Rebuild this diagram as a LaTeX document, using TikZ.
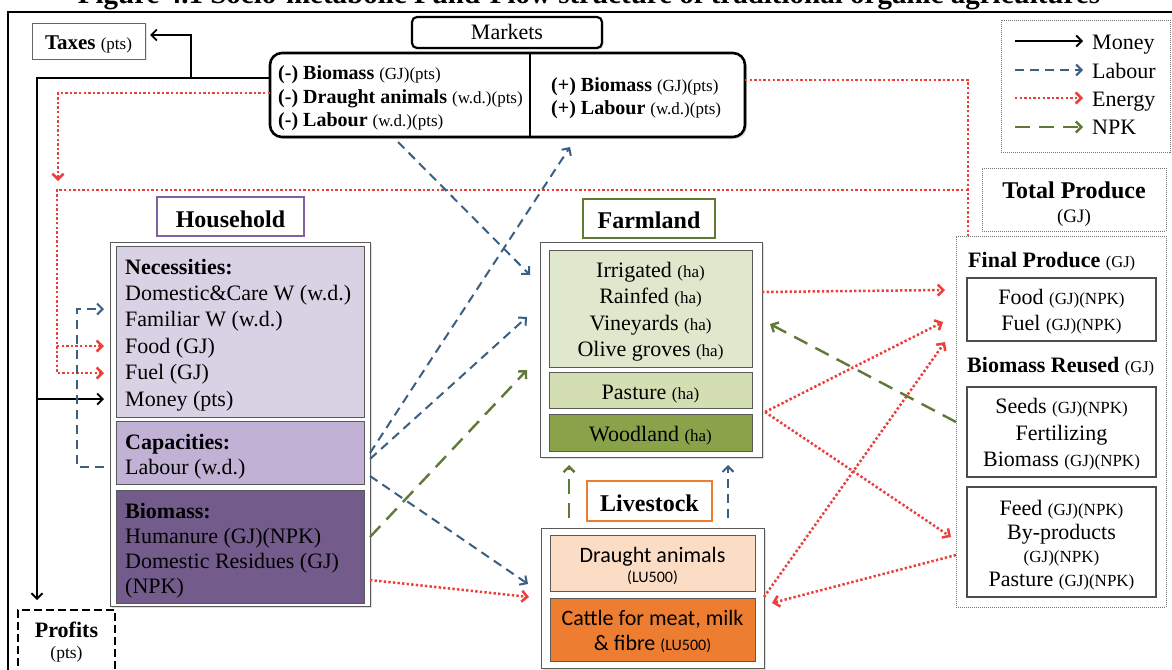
\documentclass[tikz,border=0pt]{standalone}
\usepackage{fontspec}
\setmainfont{Liberation Serif}
\newfontfamily\calib{Carlito}
\usetikzlibrary{arrows.meta,shadows,calc}

\definecolor{labourc}{HTML}{3B5F82}
\definecolor{energyc}{HTML}{E8413C}
\definecolor{npkc}{HTML}{5F7A38}
\definecolor{hhpurple}{HTML}{7E63A0}
\definecolor{necfill}{HTML}{D9D2E5}
\definecolor{capfill}{HTML}{C1B2D5}
\definecolor{biofill}{HTML}{735C8C}
\definecolor{irrfill}{HTML}{DFE8CC}
\definecolor{pasfill}{HTML}{D3DFB2}
\definecolor{woodfill}{HTML}{8AA24A}
\definecolor{flgreen}{HTML}{5E7A35}
\definecolor{draughtfill}{HTML}{FBDCC4}
\definecolor{cattlefill}{HTML}{ED7D31}

\newcommand\fsz[1]{\fontsize{#1}{#1}\selectfont}
\newcommand\smp[1]{{\fontsize{17}{17}\selectfont #1}}
\newcommand\tblk[2]{\begin{tabular}[t]{@{}#1@{}}#2\end{tabular}}

\tikzset{
  >={Straight Barb[length=5.5pt,width=11pt]},
  box/.style={draw=black!65, line width=0.9pt, anchor=north west, inner sep=0pt, outer sep=0pt},
  cont/.style={box, fill=white, drop shadow={shadow xshift=2pt, shadow yshift=-2pt, opacity=0.25}},
  dotbox/.style={draw=black!55, line width=0.9pt, dash pattern=on 1pt off 1pt, anchor=north west, inner sep=0pt, outer sep=0pt},
  txt/.style={inner sep=0pt, anchor=base},
  txtl/.style={inner sep=0pt, anchor=base west},
  money/.style={line width=1.8pt, draw=black, line join=miter},
  labour/.style={line width=2pt, draw=labourc, dash pattern=on 9pt off 6pt},
  energy/.style={line width=2.5pt, draw=energyc, dash pattern=on 2.4pt off 2.2pt},
  npk/.style={line width=2.4pt, draw=npkc, dash pattern=on 15pt off 9pt},
}

\begin{document}
\begin{tikzpicture}[x=1pt, y=-1pt]
\useasboundingbox (0,0) rectangle (1172,669);
\clip (0,0) rectangle (1172,669);
\fill[white] (0,0) rectangle (1172,669);

% heading and frame
\node[txt, font=\bfseries\fsz{29}] (heading) at (589,3.5) {Figure 4.1 Socio-metabolic Fund-Flow structure of traditional organic agricultures};
\draw[line width=1.4pt] (8,690) -- (8,12) -- (1180,12);

% taxes and profits
\node[box, fill=white, draw=black!60, drop shadow={shadow xshift=1.5pt, shadow yshift=-1.5pt, opacity=0.2}, minimum width=113pt, minimum height=36pt] (taxes) at (32,23) {};
\node[txt, font=\fsz{21}] (taxestxt) at (88.5,49) {\textbf{Taxes} \smp{(pts)}};
\node[anchor=north west, inner sep=0pt, outer sep=0pt, draw=black, line width=2.6pt, dash pattern=on 8pt off 4pt, minimum width=97pt, minimum height=70pt] (profits) at (18,610) {};
\node[txt, font=\bfseries\fsz{22}] (proftxt) at (66.5,637) {Profits};
\node[txt, font=\fsz{17.5}] (proftxt2) at (66.5,658) {(pts)};

% markets
\node[box, draw=black, line width=2.2pt, rounded corners=5pt, fill=white, minimum width=190pt, minimum height=31pt, drop shadow={shadow xshift=1.5pt, shadow yshift=-1.5pt, opacity=0.25}] (mktitle) at (412,17) {};
\node[txt, font=\fsz{22}] (mktitletxt) at (507,40) {Markets};
\node[box, draw=black, line width=2.6pt, rounded corners=12pt, fill=white, minimum width=475pt, minimum height=84pt, drop shadow={shadow xshift=2pt, shadow yshift=-2pt, opacity=0.25}] (mk) at (270,53) {};
\draw[line width=2pt] ($(mk.north west)+(260,0)$) -- ($(mk.south west)+(260,0)$);
\node[txtl, font=\fontsize{20}{23.5}\selectfont] (mkl) at (278,80) {\tblk{l}{\textbf{(-) Biomass} \smp{(GJ)(pts)}\\\textbf{(-) Draught animals} \smp{(w.d.)(pts)}\\\textbf{(-) Labour} \smp{(w.d.)(pts)}}};
\node[txtl, font=\fontsize{20}{23}\selectfont] (mkr) at (551,91) {\tblk{l}{\textbf{(+) Biomass} \smp{(GJ)(pts)}\\\textbf{(+) Labour} \smp{(w.d.)(pts)}}};

% legend
\node[dotbox, minimum width=169pt, minimum height=132pt] (legend) at (1001,20) {};
\coordinate (lg1a) at (1015,41); \coordinate (lg1b) at (1083,41);
\coordinate (lg2a) at (1015,70); \coordinate (lg2b) at (1083,70);
\coordinate (lg3a) at (1015,98); \coordinate (lg3b) at (1083,98);
\coordinate (lg4a) at (1015,127); \coordinate (lg4b) at (1083,127);
\draw[money,->] (lg1a) -- (lg1b);
\draw[labour,->] (lg2a) -- (lg2b);
\draw[energy,->] (lg3a) -- (lg3b);
\draw[npk,->] (lg4a) -- (lg4b);
\node[txtl, font=\fsz{22}] (lgt1) at (1092,49) {Money};
\node[txtl, font=\fsz{22}] (lgt2) at (1092,78) {Labour};
\node[txtl, font=\fsz{22}] (lgt3) at (1092,106) {Energy};
\node[txtl, font=\fsz{22}] (lgt4) at (1092,134) {NPK};

% total produce
\node[dotbox, minimum width=184pt, minimum height=63pt] (tptitle) at (982,168) {};
\node[txt, font=\bfseries\fsz{24}] (tpt1) at (1074,198) {Total Produce};
\node[txt, font=\fsz{19}] (tpt2) at (1074,222) {(GJ)};
\node[dotbox, fill=white, minimum width=210pt, minimum height=371pt] (tp) at (956,236) {};
\node[txtl, font=\fsz{22}] (fptxt) at (968,267) {\textbf{Final Produce} {\fsz{16.5}(GJ)}};
\node[box, draw=black!70, line width=1.2pt, minimum width=189pt, minimum height=63pt] (foodbox) at (967,278) {};
\node[txt, font=\fsz{22}] (food1) at (1061.5,304) {Food \smp{(GJ)(NPK)}};
\node[txt, font=\fsz{22}] (food2) at (1061.5,330) {Fuel \smp{(GJ)(NPK)}};
\node[txtl, font=\fsz{22}] (brtxt) at (967,372) {\textbf{Biomass Reused} {\fsz{16.5}(GJ)}};
\node[box, draw=black!70, line width=1.2pt, minimum width=189pt, minimum height=90pt] (seedbox) at (967,387) {};
\node[txt, font=\fsz{22}] (seed1) at (1061.5,413) {Seeds \smp{(GJ)(NPK)}};
\node[txt, font=\fsz{22}] (seed2) at (1061.5,440) {Fertilizing};
\node[txt, font=\fsz{22}] (seed3) at (1061.5,466) {Biomass \smp{(GJ)(NPK)}};
\node[box, draw=black!70, line width=1.2pt, minimum width=189pt, minimum height=110pt] (feedbox) at (967,487) {};
\node[txt, font=\fsz{22}] (feed1) at (1061.5,515) {Feed \smp{(GJ)(NPK)}};
\node[txt, font=\fsz{22}] (feed2) at (1061.5,539) {By-products};
\node[txt, font=\fsz{17}] (feed3) at (1061.5,562) {(GJ)(NPK)};
\node[txt, font=\fsz{22}] (feed4) at (1061.5,586) {Pasture \smp{(GJ)(NPK)}};

% household
\node[box, draw=hhpurple, line width=1.6pt, fill=white, minimum width=147pt, minimum height=39pt] (hhtitle) at (157,197) {};
\node[txt, font=\bfseries\fsz{24}] (hhtitletxt) at (230.5,227) {Household};
\node[cont, minimum width=260pt, minimum height=364pt] (hh) at (110,242) {};
\node[box, fill=necfill, minimum width=248pt, minimum height=171pt] (nec) at (116,246) {};
\node[box, fill=capfill, minimum width=248pt, minimum height=63pt] (cap) at (116,421) {};
\node[box, fill=biofill, minimum width=248pt, minimum height=113pt] (bio) at (116,490) {};
\node[txtl, font=\fontsize{22}{26.4}\selectfont] (nectxt) at (125,274) {\tblk{l}{\textbf{Necessities:}\\Domestic\&Care W (w.d.)\\Familiar W (w.d.)\\Food (GJ)\\Fuel (GJ)\\Money (pts)}};
\node[txtl, font=\fontsize{22}{25}\selectfont] (captxt) at (125,449) {\tblk{l}{\textbf{Capacities:}\\Labour (w.d.)}};
\node[txtl, font=\fontsize{22}{25.3}\selectfont, text=black] (biotxt) at (125,518) {\tblk{l}{\textbf{Biomass:}\\Humanure (GJ)(NPK)\\Domestic Residues (GJ)\\(NPK)}};

% farmland
\node[box, draw=flgreen, line width=1.6pt, fill=white, minimum width=132pt, minimum height=39pt] (fltitle) at (583,199) {};
\node[txt, font=\bfseries\fsz{24}] (fltitletxt) at (649,228) {Farmland};
\node[cont, minimum width=222pt, minimum height=215pt] (fl) at (540,242) {};
\node[box, fill=irrfill, minimum width=203pt, minimum height=117pt] (irr) at (549,250) {};
\node[box, fill=pasfill, minimum width=203pt, minimum height=36pt] (pas) at (549,372) {};
\node[box, fill=woodfill, minimum width=203pt, minimum height=37pt] (wood) at (549,414) {};
\node[txt, font=\fontsize{22}{26.5}\selectfont] (irrtxt) at (650.5,277) {\tblk{c}{Irrigated \smp{(ha)}\\Rainfed \smp{(ha)}\\Vineyards \smp{(ha)}\\Olive groves \smp{(ha)}}};
\node[txt, font=\fsz{22}] (pastxt) at (650.5,399) {Pasture \smp{(ha)}};
\node[txt, font=\fsz{22}] (woodtxt) at (650.5,441) {Woodland \smp{(ha)}};

% livestock
\node[box, draw=cattlefill, line width=1.6pt, fill=white, minimum width=125pt, minimum height=40pt] (lstitle) at (587,481) {};
\node[txt, font=\bfseries\fsz{24}] (lstitletxt) at (649.5,511) {Livestock};
\node[cont, minimum width=223pt, minimum height=140pt] (ls) at (541,528) {};
\node[box, fill=draughtfill, minimum width=205pt, minimum height=56pt] (dra) at (550,535) {};
\node[box, fill=cattlefill, minimum width=205pt, minimum height=63pt] (cat) at (550,598) {};
\node[txt, font=\calib\fsz{22}] (dra1) at (652.5,562) {Draught animals};
\node[txt, font=\calib\fsz{16}] (dra2) at (652.5,582) {(LU500)};
\node[txt, font=\calib\fsz{22}] (cat1) at (652.5,625) {Cattle for meat, milk};
\node[txt, font=\calib\fsz{22}] (cat2) at (652.5,650) {\& fibre {\fsz{16}(LU500)}};

% money flows
\coordinate (mjoin) at (37,78);
\coordinate (tjoin) at (191,78);
\draw[money,->] (mk.west |- 0,78) -- (mjoin) -- ($(profits.north -| mjoin)+(0,-10)$);
\draw[money,->] (tjoin) -- (191,35) -- ($(taxes.east |- 0,35)+(5,0)$);
\draw[money,->] (37,399) -- ($(hh.west |- 0,399)+(-6,0)$);

% energy flows on the left and top
\draw[energy,->] (mk.west |- 0,93) -- (58,93) -- (58,181);
\draw[energy] (mk.east |- 0,80) -- (968,80) -- (tp.north -| 968,0);
\draw[energy,->] (968,190) -- (57,190) -- (57,373) -- ($(hh.west |- 0,373)+(-6,0)$);
\draw[energy,->] (57,346) -- ($(hh.west |- 0,346)+(-6,0)$);

% household labour loop
\draw[labour,->] ($(hh.west |- 0,467)+(-6,0)$) -- (77,467) -- (77,309) -- ($(hh.west |- 0,309)+(-6,0)$);

% diagonal flows
\draw[labour,->] ($(mk.south -| 398,0)+(0,5)$) -- ($(fl.west |- 0,275)+(-10,0)$);
\draw[labour,->] (hh.east |- 0,453) -- ($(mk.south -| 570,0)+(0,10)$);
\draw[labour,->] (hh.east |- 0,459) -- ($(fl.west |- 0,317)+(-13,0)$);
\draw[labour,->] (hh.east |- 0,476) -- ($(ls.west |- 0,584)+(-13,0)$);
\draw[npk,->] (hh.east |- 0,537) -- ($(fl.west |- 0,370)+(-13,0)$);
\draw[energy,->] (hh.east |- 0,580) -- ($(ls.west |- 0,597)+(-12,0)$);

% livestock to farmland
\draw[npk,->] ($(ls.north -| 569,0)+(0,-10)$) -- ($(fl.south -| 569,0)+(0,8)$);
\draw[labour,->] ($(ls.north -| 728,0)+(0,-10)$) -- ($(fl.south -| 728,0)+(0,8)$);

% flows towards and from the total produce
\draw[energy,->] (fl.east |- 0,292) -- ($(tp.west |- 0,290)+(-11,0)$);
\draw[energy,->] ($(fl.east |- 0,412)+(3,0)$) -- ($(tp.west |- 0,322)+(-13,0)$);
\draw[energy,->] ($(fl.east |- 0,412)+(3,0)$) -- ($(tp.west |- 0,537)+(-5,0)$);
\draw[energy,->] (ls.east |- 0,597) -- ($(tp.west |- 0,342)+(-11,0)$);
\draw[energy,->] (tp.west |- 0,555) -- ($(ls.east |- 0,603)+(8,0)$);
\draw[npk,->] (tp.west |- 0,422) -- ($(fl.east |- 0,324)+(8,0)$);
\end{tikzpicture}
\end{document}
